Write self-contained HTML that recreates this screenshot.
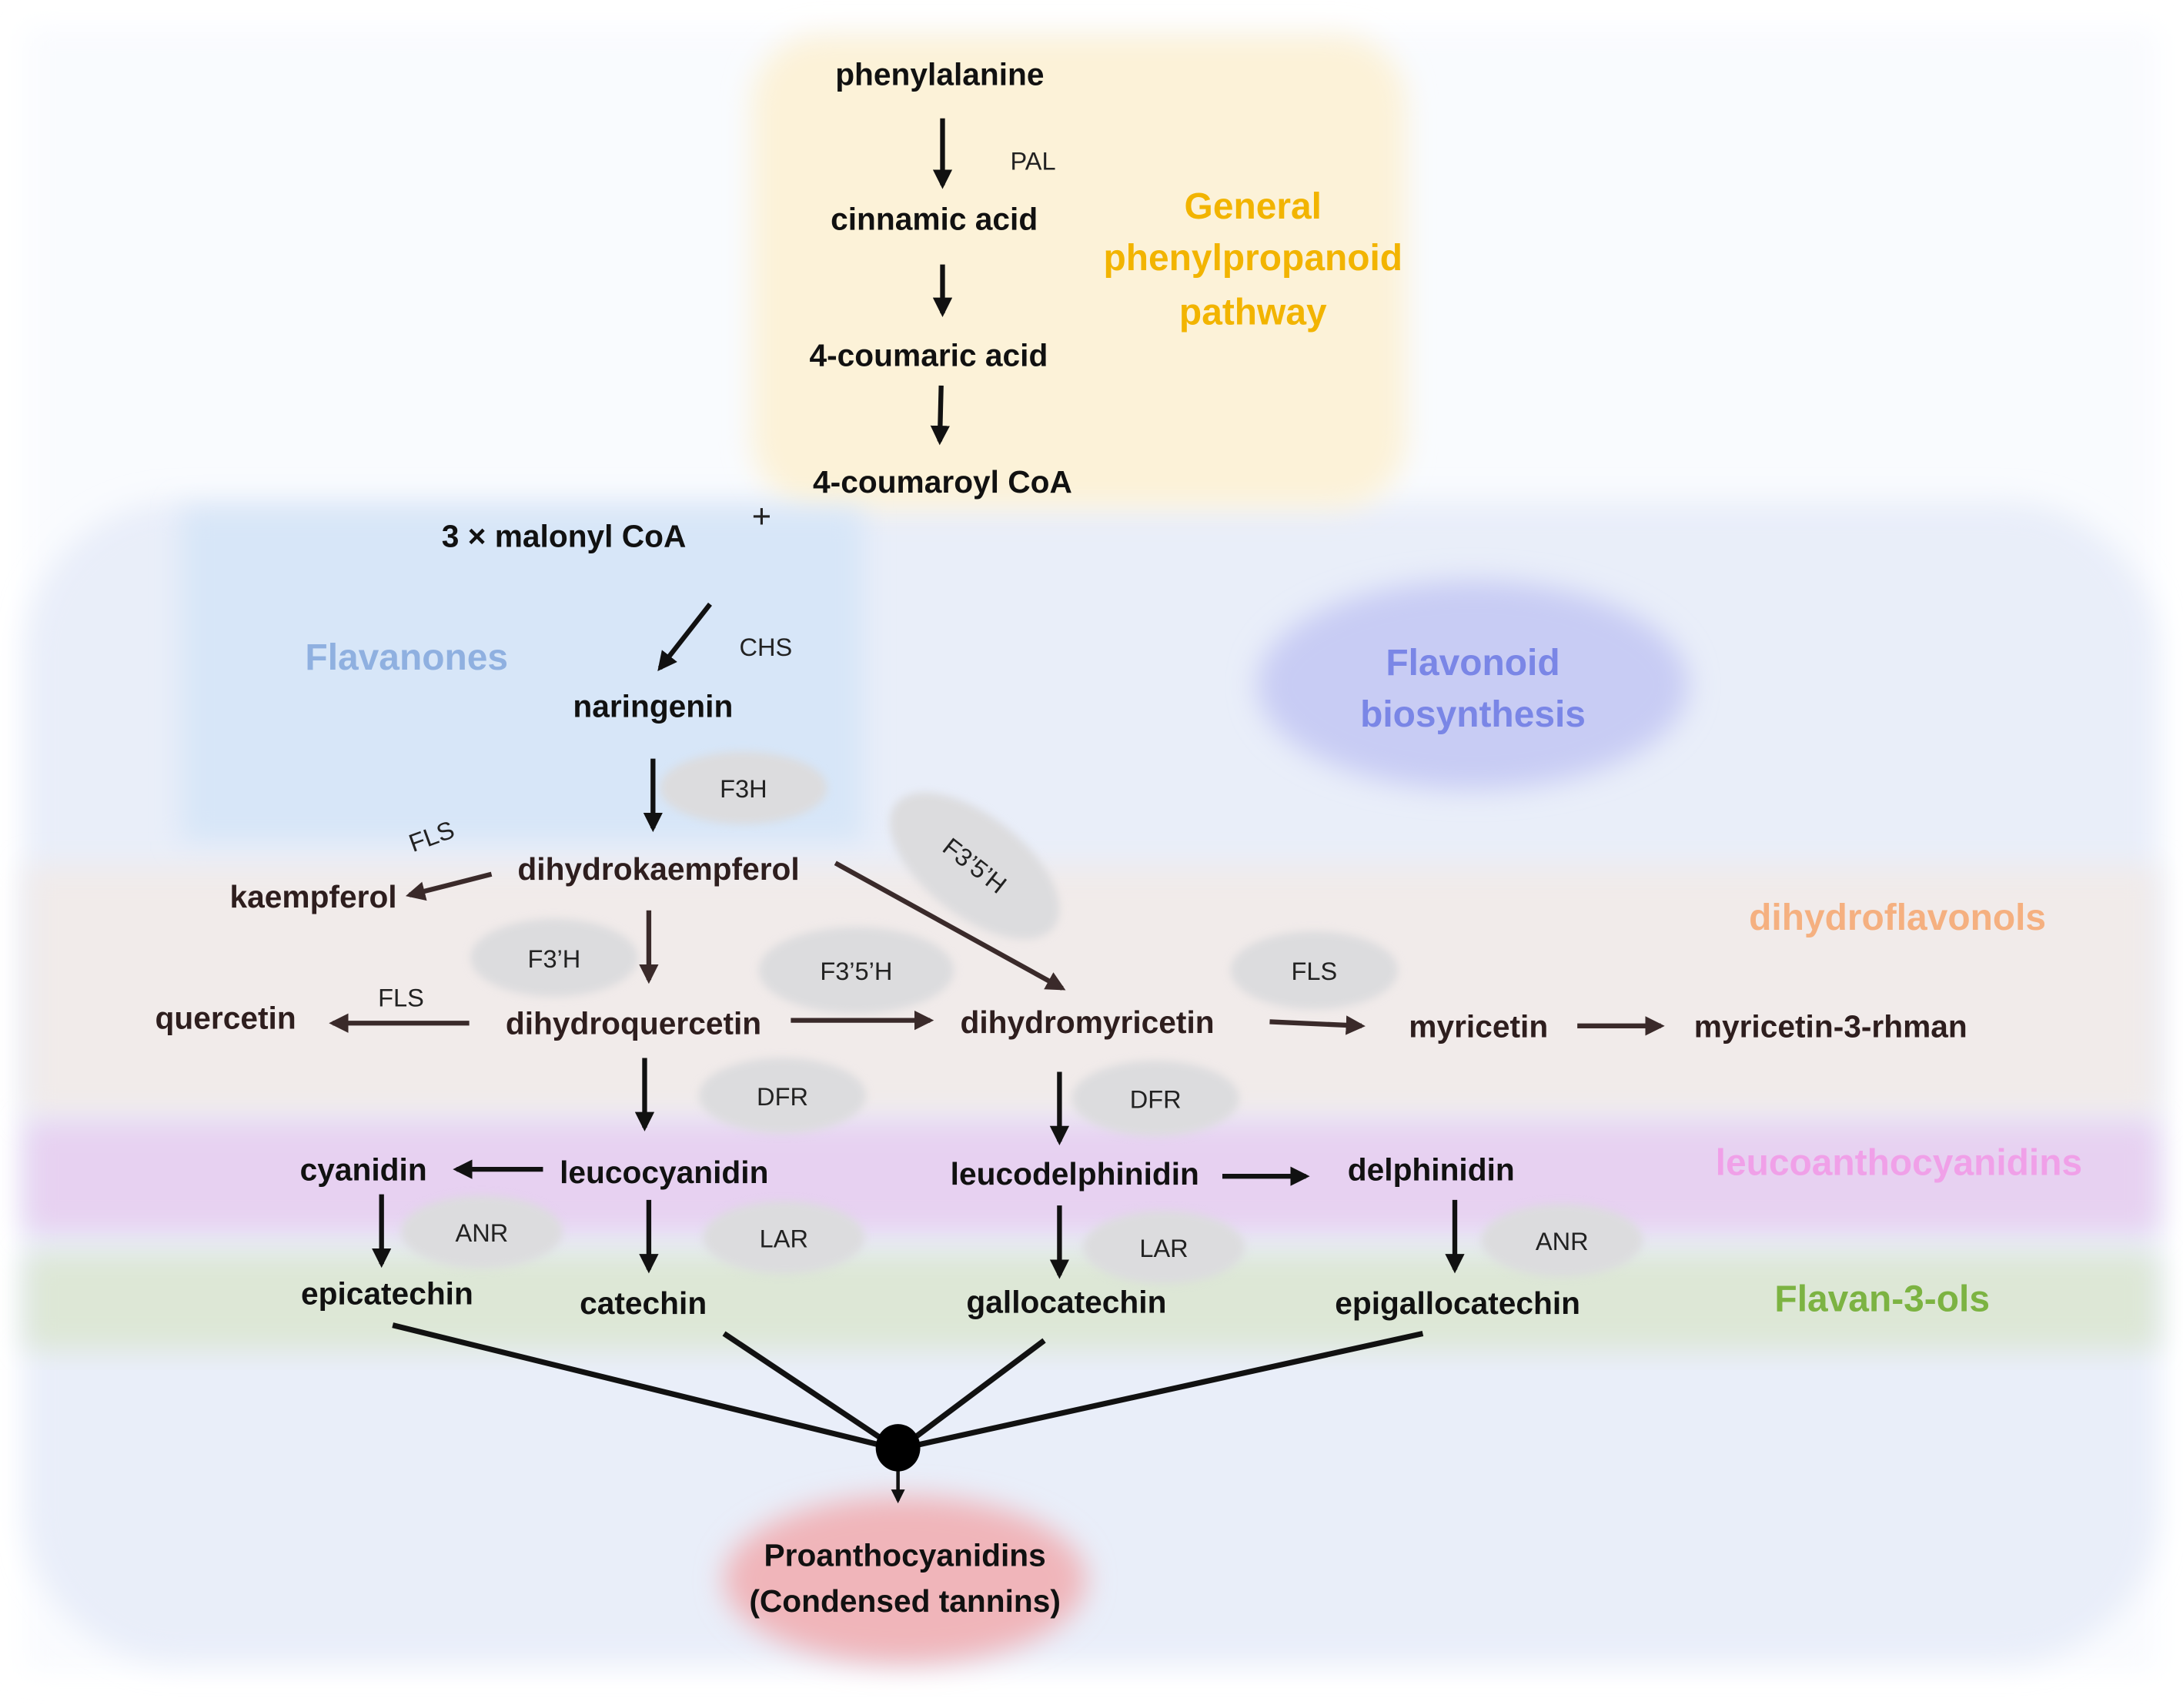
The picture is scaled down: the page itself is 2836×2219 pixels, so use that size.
<!DOCTYPE html>
<html><head><meta charset="utf-8"><style>html,body{margin:0;padding:0;background:#fff}svg{display:block}</style></head><body>
<svg width="2836" height="2219" viewBox="0 0 1568 1227" xmlns="http://www.w3.org/2000/svg">
<defs>
<filter id="b" x="-20%" y="-20%" width="140%" height="140%"><feGaussianBlur stdDeviation="10"/></filter>
<filter id="b2" x="-20%" y="-20%" width="140%" height="140%"><feGaussianBlur stdDeviation="3"/></filter>
<marker id="a" viewBox="0 0 10 10" refX="8" refY="5" markerWidth="4" markerHeight="4" orient="auto"><path d="M0,0 L10,5 L0,10 z" fill="#111"/></marker>
<marker id="ab" viewBox="0 0 10 10" refX="8" refY="5" markerWidth="4" markerHeight="4" orient="auto"><path d="M0,0 L10,5 L0,10 z" fill="#3a2a2a"/></marker>
</defs>
<rect width="1568" height="1227" fill="#fff"/>
<rect x="18" y="20" width="1532" height="1180" fill="#f9fbfe" filter="url(#b)"/>
<rect x="18" y="360" width="1532" height="835" rx="110" fill="#e9eef9" filter="url(#b)"/>
<rect x="540" y="25" width="470" height="340" rx="50" fill="#fcf2d8" filter="url(#b)"/>
<rect x="130" y="365" width="490" height="240" fill="#d7e6f8" filter="url(#b)"/>
<ellipse cx="1058" cy="492" rx="155" ry="75" fill="#c8ccf4" filter="url(#b)"/>
<rect x="18" y="622" width="1532" height="180" fill="#f1ebea" filter="url(#b)"/>
<rect x="18" y="806" width="1532" height="80" fill="#e7d1f1" filter="url(#b)"/>
<rect x="18" y="900" width="1532" height="70" fill="#dde7d6" filter="url(#b)"/>
<ellipse cx="650" cy="1135" rx="130" ry="60" fill="#f0b5ba" filter="url(#b)"/>
<g fill="#dcdcde" filter="url(#b2)">
<ellipse cx="534" cy="566" rx="60" ry="26"/>
<ellipse cx="700" cy="622" rx="72" ry="36" transform="rotate(38 700 622)"/>
<ellipse cx="398" cy="688" rx="60" ry="28"/>
<ellipse cx="615" cy="697" rx="70" ry="31"/>
<ellipse cx="944" cy="697" rx="60" ry="28"/>
<ellipse cx="562" cy="787" rx="60" ry="27"/>
<ellipse cx="830" cy="789" rx="60" ry="27"/>
<ellipse cx="346" cy="885" rx="58" ry="26"/>
<ellipse cx="563" cy="889" rx="58" ry="26"/>
<ellipse cx="836" cy="896" rx="58" ry="26"/>
<ellipse cx="1122" cy="891" rx="58" ry="26"/>
</g>
<g stroke="#111" stroke-width="3.5" marker-end="url(#a)">
<line x1="677" y1="85" x2="677" y2="133"/>
<line x1="677" y1="190" x2="677" y2="225"/>
<line x1="676" y1="277" x2="675" y2="317"/>
<line x1="510" y1="434" x2="474" y2="480"/>
<line x1="469" y1="545" x2="469" y2="595"/>
<line x1="463" y1="760" x2="463" y2="810"/>
<line x1="761" y1="770" x2="761" y2="820"/>
<line x1="274" y1="858" x2="274" y2="908"/>
<line x1="466" y1="862" x2="466" y2="912"/>
<line x1="761" y1="866" x2="761" y2="916"/>
<line x1="1045" y1="862" x2="1045" y2="912"/>
<line x1="390" y1="840" x2="328" y2="840"/>
<line x1="878" y1="845" x2="938" y2="845"/>
<line x1="645" y1="1055" x2="645" y2="1078" stroke-width="2.5"/>
</g>
<g stroke="#3a2a2a" stroke-width="3.5" marker-end="url(#ab)">
<line x1="353" y1="628" x2="294" y2="643"/>
<line x1="600" y1="620" x2="763" y2="710"/>
<line x1="466" y1="654" x2="466" y2="704"/>
<line x1="337" y1="735" x2="239" y2="735"/>
<line x1="568" y1="733" x2="668" y2="733"/>
<line x1="912" y1="734" x2="978" y2="737"/>
<line x1="1133" y1="737" x2="1193" y2="737"/>
</g>
<g stroke="#111" stroke-width="4">
<line x1="282" y1="952" x2="640" y2="1040"/>
<line x1="520" y1="958" x2="640" y2="1038"/>
<line x1="750" y1="963" x2="650" y2="1038"/>
<line x1="1022" y1="958" x2="650" y2="1040"/>
</g>
<ellipse cx="645" cy="1040" rx="16" ry="17" fill="#000"/>
<g font-family="Liberation Sans, sans-serif" font-weight="bold" font-size="22.5" fill="#111" text-anchor="middle">
<text x="675" y="61">phenylalanine</text>
<text x="671" y="165">cinnamic acid</text>
<text x="667" y="263">4-coumaric acid</text>
<text x="677" y="354">4-coumaroyl CoA</text>
<text x="405" y="393">3 × malonyl CoA</text>
<text x="469" y="515">naringenin</text>
<g fill="#2e1e1e">
<text x="473" y="632">dihydrokaempferol</text>
<text x="225" y="652">kaempferol</text>
<text x="162" y="739">quercetin</text>
<text x="455" y="743">dihydroquercetin</text>
<text x="781" y="742">dihydromyricetin</text>
<text x="1062" y="745">myricetin</text>
<text x="1315" y="745">myricetin-3-rhman</text>
</g>
<text x="261" y="848">cyanidin</text>
<text x="477" y="850">leucocyanidin</text>
<text x="772" y="851">leucodelphinidin</text>
<text x="1028" y="848">delphinidin</text>
<text x="278" y="937">epicatechin</text>
<text x="462" y="944">catechin</text>
<text x="766" y="943">gallocatechin</text>
<text x="1047" y="944">epigallocatechin</text>
<text x="650" y="1125">Proanthocyanidins</text>
<text x="650" y="1158">(Condensed tannins)</text>
</g>
<g font-family="Liberation Sans, sans-serif" font-size="18" fill="#222" text-anchor="middle">
<text x="742" y="122">PAL</text>
<text x="550" y="471">CHS</text>
<text x="534" y="573">F3H</text>
<text x="310" y="607" transform="rotate(-20 310 601)">FLS</text>
<text x="700" y="628" transform="rotate(38 700 622)">F3’5’H</text>
<text x="398" y="695">F3’H</text>
<text x="615" y="704">F3’5’H</text>
<text x="944" y="704">FLS</text>
<text x="288" y="723">FLS</text>
<text x="562" y="794">DFR</text>
<text x="830" y="796">DFR</text>
<text x="346" y="892">ANR</text>
<text x="563" y="896">LAR</text>
<text x="836" y="903">LAR</text>
<text x="1122" y="898">ANR</text>
</g>
<text x="547" y="379" font-family="Liberation Sans, sans-serif" font-size="24" fill="#222" text-anchor="middle">+</text>
<g font-family="Liberation Sans, sans-serif" font-weight="bold" font-size="26.5" text-anchor="middle">
<g fill="#f2b400"><text x="900" y="157">General</text><text x="900" y="194">phenylpropanoid</text><text x="900" y="233">pathway</text></g>
<text x="292" y="481" fill="#8fb0e0">Flavanones</text>
<g fill="#7a86e6"><text x="1058" y="485">Flavonoid</text><text x="1058" y="522">biosynthesis</text></g>
<text x="1363" y="668" fill="#f5b080">dihydroflavonols</text>
<text x="1364" y="844" fill="#f0a0e8">leucoanthocyanidins</text>
<text x="1352" y="942" fill="#7cb342">Flavan-3-ols</text>
</g>
</svg>
</body></html>
